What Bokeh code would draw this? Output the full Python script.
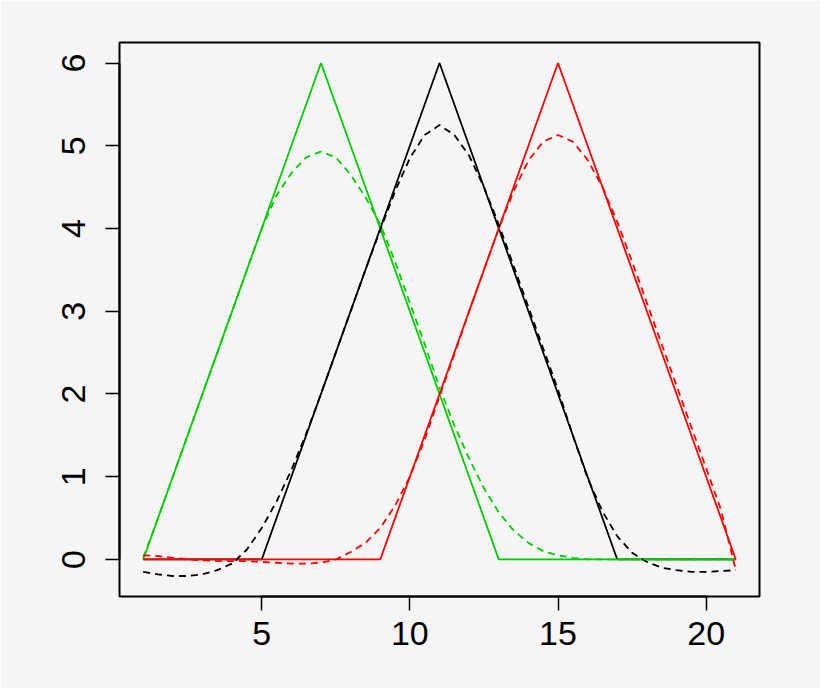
from bokeh.plotting import figure
from bokeh.models import Range1d, FixedTicker
from bokeh.embed import file_html
from bokeh.resources import INLINE

# ---- data ----
x_int = list(range(1, 22))
green_solid = [0, 1, 2, 3, 4, 5, 6, 5, 4, 3, 2, 1, 0, 0, 0, 0, 0, 0, 0, 0, 0]
black_solid = [0, 0, 0, 0, 0, 1, 2, 3, 4, 5, 6, 5, 4, 3, 2, 1, 0, 0, 0, 0, 0]
red_solid = [0, 0, 0, 0, 0, 0, 0, 0, 0, 1, 2, 3, 4, 5, 6, 5, 4, 3, 2, 1, 0]

x_half = [1 + 0.5 * i for i in range(41)]
green_dashed = [0.02, 0.5, 1.0, 1.5, 2.0, 2.5, 3.0, 3.5, 4.0, 4.4, 4.67, 4.86, 4.93,
                4.86, 4.65, 4.38, 4.05, 3.6, 3.1, 2.6, 2.08, 1.62, 1.22, 0.86, 0.57,
                0.35, 0.2, 0.1, 0.05, 0.02, 0.0, 0.0, 0.0, 0.0, 0.0, 0.0, 0.0, 0.0,
                0.0, 0.0, 0.0]
black_dashed = [-0.15, -0.18, -0.2, -0.2, -0.18, -0.13, -0.05, 0.12, 0.38, 0.7, 1.08,
                1.52, 2.0, 2.5, 3.0, 3.5, 3.98, 4.45, 4.85, 5.13, 5.25, 5.13, 4.88,
                4.5, 4.05, 3.55, 3.05, 2.55, 2.05, 1.5, 0.98, 0.58, 0.28, 0.08, -0.03,
                -0.1, -0.13, -0.15, -0.15, -0.14, -0.13]
red_dashed = [0.05, 0.04, 0.02, 0.0, -0.01, -0.02, -0.02, -0.02, -0.03, -0.04, -0.05,
              -0.05, -0.04, 0.0, 0.09, 0.2, 0.38, 0.65, 1.0, 1.45, 1.97, 2.48, 3.0,
              3.5, 4.0, 4.45, 4.82, 5.05, 5.13, 5.05, 4.83, 4.5, 4.08, 3.6, 3.1, 2.6,
              2.1, 1.6, 1.1, 0.6, -0.13]

x_ticks = [5, 10, 15, 20]
y_ticks = [0, 1, 2, 3, 4, 5, 6]

BG = "#f5f5f5"
GREEN = "#00cd00"
RED = "#ff0000"
BLACK = "#000000"
FONT = "Liberation Sans"

p = figure(width=820, height=688, output_backend="svg", toolbar_location=None,
           x_range=Range1d(0.2, 21.8), y_range=Range1d(-0.448, 6.248),
           min_border_left=119, min_border_right=61, min_border_top=42,
           min_border_bottom=92)
p.background_fill_color = BG
p.border_fill_color = BG
p.outline_line_color = BLACK
p.outline_line_width = 2
p.xgrid.visible = False
p.ygrid.visible = False

for ax, ticks, bounds in ((p.xaxis[0], x_ticks, (5, 20)), (p.yaxis[0], y_ticks, (0, 6))):
    ax.ticker = FixedTicker(ticks=ticks)
    ax.bounds = bounds
    ax.axis_line_color = BLACK
    ax.axis_line_width = 2
    ax.major_tick_out = 14
    ax.major_tick_in = 0
    ax.major_tick_line_width = 1.5
    ax.major_tick_line_color = BLACK
    ax.minor_tick_line_color = None
    ax.major_label_text_font = FONT
    ax.major_label_text_font_size = "34px"
    ax.major_label_text_color = BLACK

p.xaxis[0].major_label_standoff = 11
p.yaxis[0].major_label_standoff = 20
p.yaxis[0].major_label_orientation = "vertical"

lw = 1.8
dash = "7 5"
p.line(x_int, black_solid, line_color=BLACK, line_width=lw)
p.line(x_int, green_solid, line_color=GREEN, line_width=lw)
p.line(x_int, red_solid, line_color=RED, line_width=lw)
p.line(x_half, black_dashed, line_color=BLACK, line_width=lw, line_dash=dash)
p.line(x_half, green_dashed, line_color=GREEN, line_width=lw, line_dash=dash)
p.line(x_half, red_dashed, line_color=RED, line_width=lw, line_dash=dash)

open("out.html", "w").write(file_html(p, INLINE))
